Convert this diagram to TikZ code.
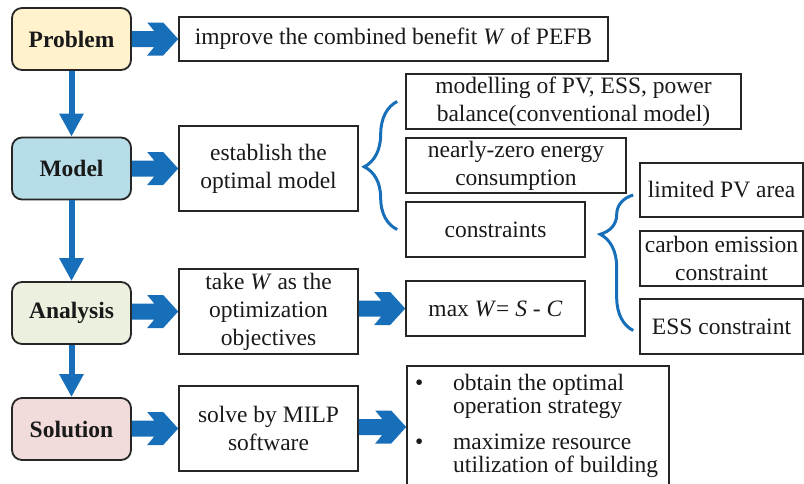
\documentclass[tikz,border=0pt]{standalone}
\usepackage{fontspec}
\setmainfont{Liberation Serif}
\usetikzlibrary{arrows.meta,calc,decorations.pathreplacing}
\definecolor{arrblue}{RGB}{24,111,185}
\definecolor{probfill}{RGB}{255,242,204}
\definecolor{modelfill}{RGB}{183,222,232}
\definecolor{anafill}{RGB}{235,241,222}
\definecolor{solfill}{RGB}{242,220,219}
\begin{document}
\begin{tikzpicture}[x=1pt,y=-1pt,
  every node/.style={font=\fontsize{23.5}{28}\selectfont,text=black!90},
  stage/.style={draw=black!85,line width=1.8pt,rounded corners=10pt,minimum width=119pt,minimum height=62pt,font=\fontsize{23.5}{28}\selectfont\bfseries},
  txtbox/.style={draw=black!85,line width=1.6pt,align=center,inner sep=0pt},
  downarr/.style={arrblue,line width=6pt,-{Triangle[width=23pt,length=23pt]}},
  blockarr/.style={fill=arrblue,to path={let \p1=(\tikztostart.east),\p2=(\tikztotarget.west) in
    (\x1,\y2+8pt) -- (\x2-24pt,\y2+8pt) -- (\x2-31pt,\y2+16.5pt) -- (\x2-15pt,\y2+16.5pt) -- (\x2,\y2)
    -- (\x2-15pt,\y2-16.5pt) -- (\x2-31pt,\y2-16.5pt) -- (\x2-24pt,\y2-8pt) -- (\x1,\y2-8pt) -- cycle}},
  curly/.style={draw=arrblue,line width=3pt,decorate,decoration={brace,amplitude=33pt,aspect=#1}}]
  \useasboundingbox (0,0) rectangle (804,483);
  \clip (0,0) rectangle (804,483);
  % stages on the left
  \node[stage,fill=probfill] (prob) at (71.5,39) {Problem};
  \node[stage,fill=modelfill] (model) at (71.5,168.5) {Model};
  \node[stage,fill=anafill] (analysis) at (71.5,313) {Analysis};
  \node[stage,fill=solfill] (solution) at (71.5,429) {Solution};
  % what each stage does
  \node[txtbox,minimum width=429pt,minimum height=44pt] (improve) at (393.5,39) {improve the combined benefit \textit{W} of PEFB};
  \node[txtbox,minimum width=179pt,minimum height=85pt] (establish) at (268.5,168.5) {establish the\\optimal model};
  \node[txtbox,minimum width=179pt,minimum height=85pt] (takew) at (268.5,311.5) {take \textit{W} as the\\optimization\\objectives};
  \node[txtbox,minimum width=179pt,minimum height=85pt] (solve) at (268.5,428.5) {solve by MILP\\software};
  % model parts
  \node[txtbox,minimum width=335pt,minimum height=55pt] (modelling) at (573.5,101.5) {modelling of PV, ESS, power\\balance(conventional model)};
  \node[txtbox,minimum width=220pt,minimum height=55pt] (nzec) at (516,165.5) {nearly-zero energy\\consumption};
  \node[txtbox,minimum width=179pt,minimum height=55pt] (constr) at (495.5,229.5) {constraints};
  \node[txtbox,minimum width=179pt,minimum height=55pt] (maxw) at (495.5,308.5) {max \textit{W}= \textit{S} - \textit{C}};
  \node[txtbox,minimum width=262pt,minimum height=122pt] (result) at (538,427) {\parbox[c][122pt][t]{262pt}{\fontsize{23.5}{23}\selectfont
    \vspace*{8pt}
    \begin{tabular}[t]{@{\hspace{8pt}}l@{\hspace{30pt}}l@{}}
      \textbullet & obtain the optimal\\
                  & operation strategy\\[13pt]
      \textbullet & maximize resource\\
                  & utilization of building
    \end{tabular}}};
  % constraints
  \node[txtbox,minimum width=163pt,minimum height=54pt] (pvarea) at (721.5,190) {limited PV area};
  \node[txtbox,minimum width=163pt,minimum height=55pt] (carbon) at (721.5,258.5) {carbon emission\\constraint};
  \node[txtbox,minimum width=163pt,minimum height=55pt] (ess) at (721.5,326.5) {ESS constraint};
  % arrows
  \draw[downarr] (prob) -- (model);
  \draw[downarr] (model) -- (analysis);
  \draw[downarr] (analysis) -- (solution);
  \path[blockarr] (prob) to (improve);
  \path[blockarr] (model) to (establish);
  \path[blockarr] (analysis) to (takew);
  \path[blockarr] (solution) to (solve);
  \path[blockarr] (takew) to (maxw);
  \path[blockarr] (solve) to (result);
  % braces
  \draw[curly=0.49] ([xshift=-8pt]constr.west) -- ([xshift=-8pt]modelling.west);
  \draw[curly=0.71] ([xshift=-6pt,yshift=-4pt]ess.west) -- ([xshift=-6pt,yshift=-5pt]pvarea.west);
\end{tikzpicture}
\end{document}
